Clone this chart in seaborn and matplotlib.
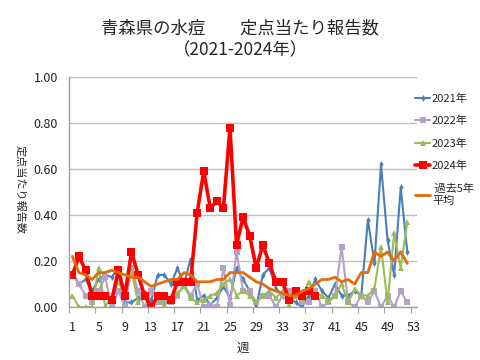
import numpy as np
import pandas as pd
import matplotlib
matplotlib.use("Agg")
import matplotlib.pyplot as plt
import seaborn as sns
from matplotlib.ticker import FixedLocator, MultipleLocator

# --- data ---
weeks = list(range(1, 53))

y2021 = [0.15, 0.10, 0.12, 0.07, 0.12, 0.14, 0.13, 0.17, 0.02, 0.02,
         0.04, 0.06, 0.03, 0.14, 0.14, 0.10, 0.17, 0.10, 0.21, 0.03,
         0.05, 0.01, 0.04, 0.09, 0.04, 0.17, 0.12, 0.07, 0.00, 0.14,
         0.17, 0.08, 0.05, 0.04, 0.02, 0.00, 0.05, 0.12, 0.07, 0.04,
         0.10, 0.05, 0.05, 0.07, 0.05, 0.38, 0.19, 0.62, 0.29, 0.14,
         0.52, 0.24]

y2022 = [0.14, 0.10, 0.05, 0.02, 0.07, 0.13, 0.00, 0.07, 0.00, 0.17,
         0.07, 0.00, 0.07, 0.02, 0.02, 0.02, 0.05, 0.10, 0.05, 0.10,
         0.00, 0.01, 0.00, 0.17, 0.01, 0.24, 0.07, 0.07, 0.02, 0.05,
         0.05, 0.00, 0.05, 0.07, 0.05, 0.02, 0.02, 0.07, 0.00, 0.02,
         0.05, 0.26, 0.02, 0.00, 0.05, 0.02, 0.07, 0.00, 0.05, 0.00,
         0.07, 0.02]

y2023 = [0.05, 0.00, 0.00, 0.00, 0.17, 0.00, 0.05, 0.11, 0.05, 0.16,
         0.02, 0.05, 0.00, 0.04, 0.01, 0.03, 0.06, 0.09, 0.04, 0.02,
         0.03, 0.05, 0.06, 0.10, 0.12, 0.05, 0.07, 0.05, 0.02, 0.05,
         0.07, 0.04, 0.07, 0.01, 0.05, 0.04, 0.11, 0.06, 0.05, 0.03,
         0.05, 0.10, 0.02, 0.08, 0.05, 0.05, 0.08, 0.26, 0.02, 0.32,
         0.17, 0.37]

weeks2024 = list(range(1, 39))
y2024 = [0.14, 0.22, 0.16, 0.05, 0.05, 0.05, 0.03, 0.16, 0.05, 0.24,
         0.14, 0.05, 0.00, 0.05, 0.05, 0.03, 0.11, 0.11, 0.11, 0.41,
         0.59, 0.43, 0.46, 0.43, 0.78, 0.27, 0.39, 0.31, 0.17, 0.27,
         0.19, 0.11, 0.11, 0.03, 0.07, 0.05, 0.07, 0.05]

avg5 = [0.22, 0.15, 0.14, 0.12, 0.15, 0.15, 0.16, 0.15, 0.14, 0.13,
        0.13, 0.11, 0.09, 0.10, 0.11, 0.12, 0.12, 0.15, 0.14, 0.11,
        0.11, 0.11, 0.12, 0.12, 0.15, 0.15, 0.15, 0.13, 0.11, 0.10,
        0.08, 0.07, 0.06, 0.05, 0.05, 0.07, 0.08, 0.10, 0.12, 0.12,
        0.13, 0.11, 0.12, 0.10, 0.15, 0.15, 0.24, 0.22, 0.24, 0.20,
        0.24, 0.19]

xtick_labels = list(range(1, 54, 4))

sns.set_theme(style="white")
plt.rcParams['font.family'] = ['Noto Sans CJK JP', 'DejaVu Sans']

fig = plt.figure(figsize=(4.8, 3.6), dpi=100)
ax = fig.add_axes([0.144, 0.147, 0.725, 0.639])

sns.lineplot(x=weeks, y=y2021, ax=ax, color='#4A7EBB', linewidth=1.5,
             marker='d', markersize=3.5, markeredgewidth=0, label='2021年')
sns.lineplot(x=weeks, y=y2022, ax=ax, color='#B3A2C7', linewidth=1.5,
             marker='s', markersize=4, markeredgewidth=0, label='2022年')
sns.lineplot(x=weeks, y=y2023, ax=ax, color='#9BBB59', linewidth=1.5,
             marker='^', markersize=4, markeredgewidth=0, label='2023年')
sns.lineplot(x=weeks2024, y=y2024, ax=ax, color='#FF0000', linewidth=2.6,
             marker='s', markersize=5.5, markeredgewidth=0, label='2024年')
sns.lineplot(x=weeks, y=avg5, ax=ax, color='#E46C0A', linewidth=2,
             label=' 過去5年\n平均')

ax.set_xlim(0.5, 53.5)
ax.set_ylim(0, 1.0)
ax.yaxis.set_major_locator(MultipleLocator(0.2))
ax.set_yticklabels([f'{v:.2f}' for v in ax.get_yticks()])
ax.set_xticks(xtick_labels)
ax.set_xticklabels([str(v) for v in xtick_labels])
ax.xaxis.set_minor_locator(FixedLocator(np.arange(0.5, 54, 4)))
ax.tick_params(axis='x', which='major', length=0, pad=10, labelsize=9, colors='#222222')
ax.tick_params(axis='x', which='minor', length=4, color='#A0A0A0', width=0.8, bottom=True)
ax.tick_params(axis='y', length=0, pad=8, labelsize=9, colors='#222222')

ax.grid(axis='y', color='#BFBFBF', linewidth=1)
ax.grid(axis='x', visible=False)
for s in ['top', 'right']:
    ax.spines[s].set_visible(False)
for s in ['left', 'bottom']:
    ax.spines[s].set_color('#A0A0A0')
    ax.spines[s].set_linewidth(1)

ax.set_xlabel('週', fontsize=9, labelpad=6)
ax.set_ylabel('定点当たり報告数', fontsize=8, rotation=-90)
ax.yaxis.set_label_coords(-0.155, 0.51)

ax.legend(loc='upper left', bbox_to_anchor=(0.995, 0.93), frameon=False,
          fontsize=8, handlelength=1.3, handletextpad=0.2, labelspacing=1.1,
          borderaxespad=0, borderpad=0)

fig.text(0.5, 0.922, '青森県の水痘　　定点当たり報告数', ha='center', va='center', fontsize=12.5)
fig.text(0.5, 0.861, '（2021-2024年）', ha='center', va='center', fontsize=12.5)

fig.savefig('out.png', dpi=100)
